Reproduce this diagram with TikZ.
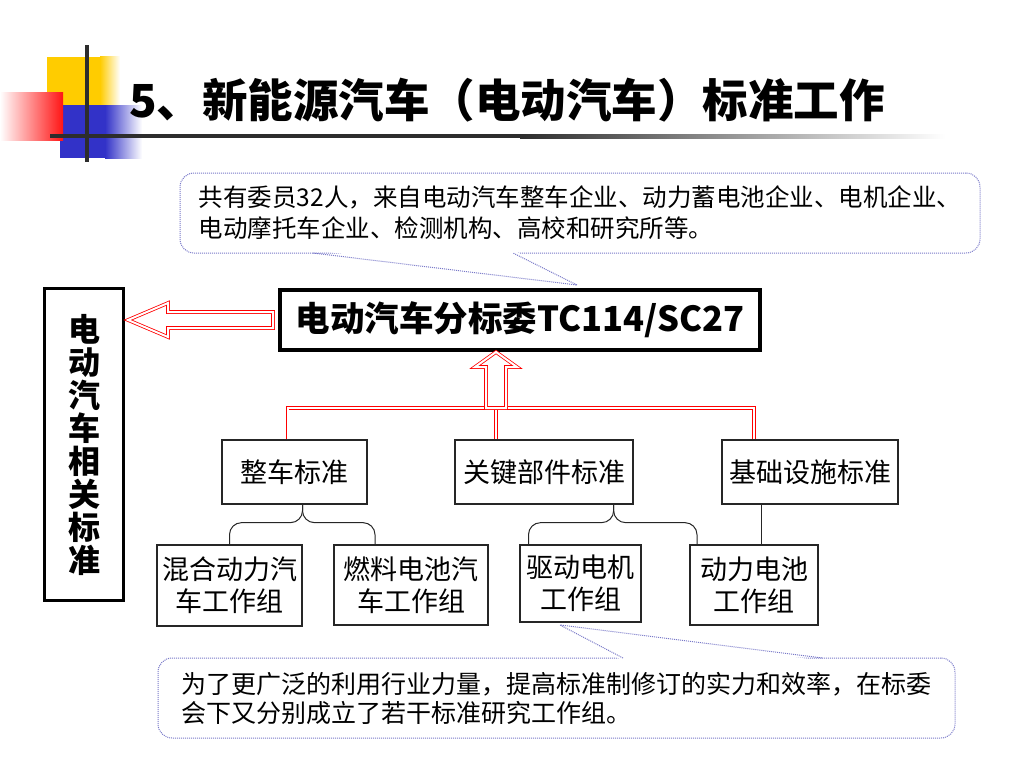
\documentclass[tikz,border=0pt]{standalone}
\usepackage{fontspec}
\setmainfont{Noto Sans CJK SC}
\usetikzlibrary{calc}
\definecolor{noteBlue}{RGB}{120, 120, 200}
\definecolor{decoYellow}{RGB}{255, 204, 0}
\definecolor{decoBlue}{RGB}{50, 50, 200}
\definecolor{decoRed}{RGB}{255, 20, 20}
\definecolor{lineGray}{RGB}{45, 45, 45}

\tikzset{
  box/.style={draw=black!85, line width=1.3pt, inner sep=0pt, align=center,
    font=\fontsize{27}{32}\selectfont},
  mainbox/.style={draw=black, line width=4pt, inner sep=0pt,
    minimum width=480pt, minimum height=60pt,
    font=\fontsize{34.5}{36}\selectfont\bfseries},
  sidebox/.style={draw=black, line width=3pt, inner sep=0pt, align=center,
    minimum width=79pt, minimum height=312pt,
    font=\fontsize{32}{33}\selectfont\bfseries},
  note/.style={draw=noteBlue, densely dotted, line width=1pt, rounded corners=14pt,
    inner sep=0pt, align=left, minimum height=80pt},
  tail/.style={draw=noteBlue, densely dotted, line width=1pt},
  redline/.style={draw=red, double=white, double distance=2pt, line width=0.8pt},
  hollow/.style={redline, fill=white, line join=miter},
  brace/.style={draw=black!85, line width=1pt, rounded corners=12pt},
}

\begin{document}
\begin{tikzpicture}[x=1pt, y=-1pt]
  \useasboundingbox (0,0) rectangle (1024,768);

  % corner decoration
  \fill[decoYellow] (47,57) rectangle (100,125);
  \shade[left color=decoYellow, right color=white] (100,57) rectangle (120,125);
  \fill[decoBlue] (60,105) rectangle (105,158);
  \shade[left color=decoBlue, right color=white] (105,105) rectangle (142,158);
  \shade[left color=white, right color=decoRed] (0,92) rectangle (63,140);
  \fill[lineGray] (85,45) rectangle (89,162);
  \fill[lineGray] (50,134) rectangle (520,138);
  \shade[left color=lineGray, right color=white] (520,134) rectangle (945,138);

  \node[anchor=west, inner sep=0pt, font=\fontsize{45.5}{48}\selectfont\bfseries] (title) at (129,100)
    {5、新能源汽车（电动汽车）标准工作};

  % boxes
  \node[mainbox] (tc) at (520,320) {电动汽车分标委TC114/SC27};
  \node[sidebox] (side) at (84,444.5) {电\\动\\汽\\车\\相\\关\\标\\准};

  \node[box, minimum width=145pt, minimum height=64pt] (whole) at (294.5,472) {整车标准};
  \node[box, minimum width=178pt, minimum height=64pt] (key) at (544,472) {关键部件标准};
  \node[box, minimum width=176pt, minimum height=64pt] (infra) at (810,472) {基础设施标准};

  \node[box, minimum width=145pt, minimum height=81pt] (hybrid) at (229.5,585.5) {混合动力汽\\车工作组};
  \node[box, minimum width=154pt, minimum height=80pt] (fuel) at (411,585) {燃料电池汽\\车工作组};
  \node[box, minimum width=121pt, minimum height=77pt] (motor) at (580.5,583.5) {驱动电机\\工作组};
  \node[box, minimum width=128pt, minimum height=80pt] (battery) at (754,585) {动力电池\\工作组};

  % callouts
  \node[note, minimum width=800pt, font=\fontsize{24.5}{31}\selectfont] (topnote) at (580,213)
    {共有委员32人，来自电动汽车整车企业、动力蓄电池企业、电机企业、\\电动摩托车企业、检测机构、高校和研究所等。};
  \coordinate (toptip) at (577,285);
  \fill[white] (313,250) -- (toptip) -- (513,250) -- cycle;
  \draw[tail] (313,253) -- (toptip) -- (513,253);

  \node[note, minimum width=797pt, font=\fontsize{25}{29}\selectfont] (bottomnote) at (556.5,698)
    {为了更广泛的利用行业力量，提高标准制修订的实力和效率，在标委\\会下又分别成立了若干标准研究工作组。};
  \coordinate (bottip) at (560,625);
  \fill[white] (623,661) -- (bottip) -- (823,661) -- cycle;
  \draw[tail] (623,658) -- (bottip) -- (823,658);

  % red arrows and bus
  \coordinate (ltip) at ($(side.east |- tc.west)+(3,0)$);
  \draw[hollow] (ltip) -- ++(40,-17) -- ++(0,9) -- ($(tc.west)+(-5,-8)$) -- ($(tc.west)+(-5,8)$)
    -- ($(ltip)+(40,8)$) -- ($(ltip)+(40,17)$) -- cycle;

  \coordinate (utip) at ([xshift=-24pt]tc.south);
  \coordinate (bus) at ($(utip)+(0,56)$);
  \coordinate (d1) at ([xshift=-7pt]whole.north);
  \coordinate (d3) at ([xshift=-56pt]infra.north);
  \draw[redline] (d1) |- (d3 |- bus) -- (d3);
  \draw[redline] (bus) -- (key.north -| bus);
  \draw[hollow] (utip) -- ++(21,15) -- ++(-11,0) -- ++(0,41) -- ++(-20,0) -- ++(0,-41)
    -- ++(-11,0) -- cycle;

  % braces
  \coordinate (b1) at ([xshift=8pt]whole.south);
  \draw[brace] (b1) -- ++(0,18) -| (hybrid.north);
  \draw[brace] (b1) -- ++(0,18) -| ([xshift=-36pt]fuel.north);
  \coordinate (b2) at ([xshift=-20pt]key.south east);
  \draw[brace] (b2) -- ++(0,18) -| ([xshift=-52pt]motor.north);
  \draw[brace] (b2) -- ++(0,18) -| ([xshift=-57pt]battery.north);
  \coordinate (b3) at ([xshift=40pt]infra.south west);
  \draw[draw=black!85, line width=1pt] (b3) -- (b3 |- battery.north);
\end{tikzpicture}
\end{document}
